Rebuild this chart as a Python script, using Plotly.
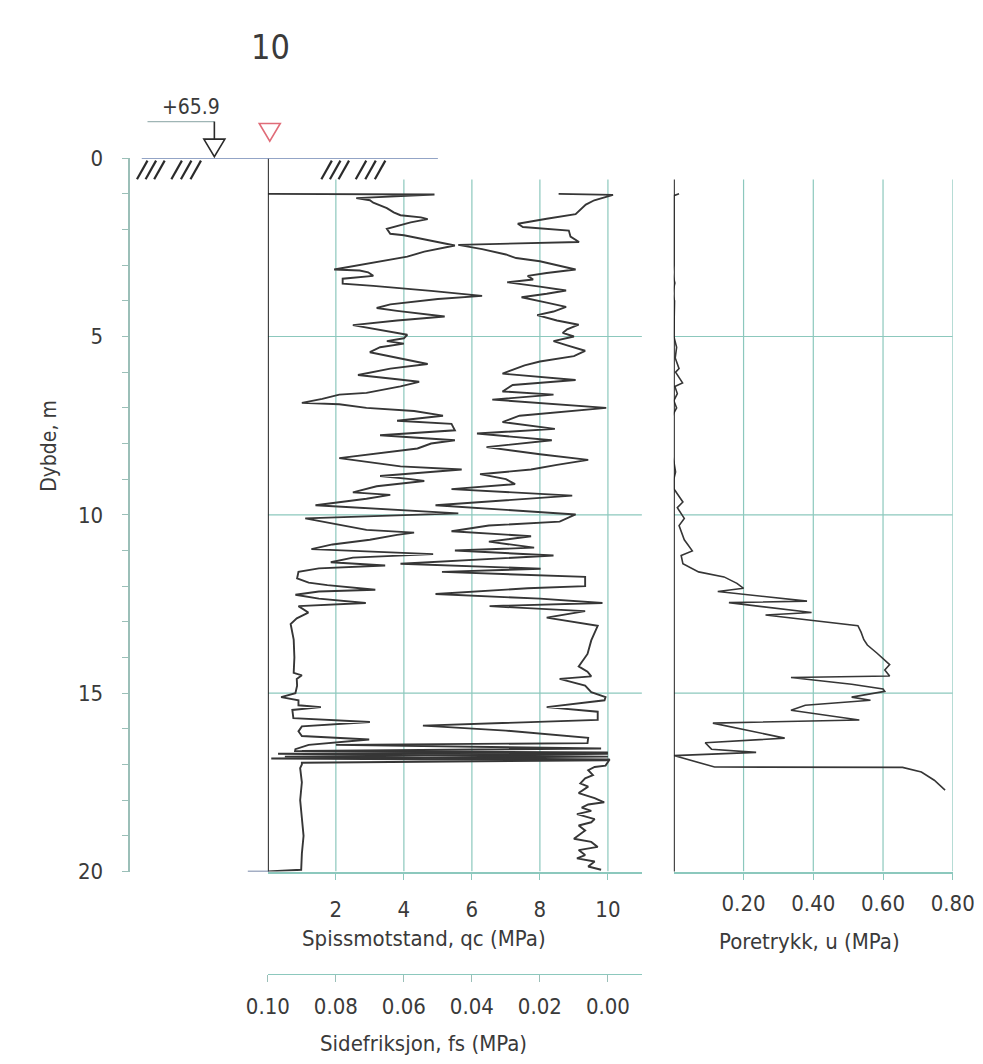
import plotly.graph_objects as go

# ---------------- data ----------------
qc_depth = [1.00, 1.02, 1.12, 1.18, 1.25, 1.40, 1.52, 1.60, 1.66, 1.71, 1.80, 1.98, 2.12, 2.16, 2.45,
            2.62, 2.76, 2.93, 3.08, 3.12, 3.15, 3.20, 3.30, 3.38, 3.52, 3.58, 3.72, 3.86, 3.95, 4.10,
            4.20, 4.28, 4.44, 4.55, 4.68, 4.82, 4.95, 5.05, 5.13, 5.20, 5.30, 5.44, 5.60, 5.77, 5.90,
            6.08, 6.20, 6.27, 6.40, 6.58, 6.63, 6.75, 6.86, 6.90, 7.00, 7.09, 7.22, 7.36, 7.45, 7.63,
            7.77, 7.91, 8.00, 8.14, 8.41, 8.55, 8.64, 8.73, 8.91, 9.00, 9.05, 9.20, 9.37, 9.44, 9.55,
            9.73, 9.80, 9.96, 10.10, 10.25, 10.42, 10.50, 10.56, 10.70, 10.83, 10.96, 11.10, 11.20, 11.33, 11.42,
            11.50, 11.60, 11.78, 11.90, 11.97, 12.10, 12.15, 12.24, 12.35, 12.47, 12.56, 12.74, 12.90, 13.06, 13.50,
            14.00, 14.43, 14.50, 14.60, 14.79, 15.00, 15.11, 15.20, 15.34, 15.39, 15.47, 15.70, 15.81, 15.93, 16.07,
            16.20, 16.30, 16.45, 16.57, 16.62, 16.66, 16.70, 16.78, 16.83, 16.88, 16.95, 17.00, 17.10, 17.50, 18.00,
            18.50, 19.00, 19.50, 19.95, 20.00]
qc_value = [0.0, 4.9, 2.6, 3.0, 3.1, 3.5, 3.7, 3.9, 4.5, 4.7, 4.2, 3.5, 3.6, 4.0, 5.5,
            4.6, 4.1, 3.1, 2.2, 1.95, 2.7, 2.95, 3.1, 2.2, 2.2, 3.1, 4.8, 6.3, 5.0, 3.6,
            3.2, 3.8, 5.2, 3.8, 2.5, 3.4, 4.1, 4.0, 3.5, 4.0, 3.3, 3.0, 3.8, 4.7, 3.6,
            2.65, 3.8, 4.45, 3.9, 2.9, 2.1, 1.6, 1.0, 2.1, 2.9, 4.3, 5.15, 3.8, 5.4, 5.5,
            3.3, 5.5, 4.8, 4.4, 2.1, 3.3, 3.9, 5.7, 3.3, 4.2, 4.6, 3.2, 2.5, 3.6, 2.9,
            1.4, 2.6, 5.6, 1.1, 2.0, 2.9, 4.3, 3.8, 3.0, 1.9, 1.28, 4.86, 2.5, 1.85, 3.45,
            1.5, 0.9, 0.86, 1.2, 1.75, 3.16, 1.5, 0.81, 1.5, 2.88, 0.9, 1.19, 0.85, 0.67, 0.76,
            0.78, 0.76, 1.0, 0.85, 0.86, 0.81, 0.39, 0.9, 0.9, 1.56, 0.72, 0.75, 3.0, 1.0, 0.9,
            1.0, 2.98, 1.2, 0.81, 0.8, 10.0, 0.3, 10.0, 0.1, 10.0, 1.0, 1.0, 0.95, 1.0, 0.95,
            1.0, 1.05, 1.0, 0.98, 0.0]

fs_depth = [1.00, 1.03, 1.07, 1.12, 1.18, 1.30, 1.48, 1.57, 1.70, 1.84, 1.93, 2.03, 2.20, 2.35, 2.43,
            2.55, 2.70, 2.80, 2.89, 3.00, 3.12, 3.22, 3.30, 3.40, 3.48, 3.60, 3.71, 3.80, 3.90, 4.05,
            4.17, 4.30, 4.40, 4.55, 4.67, 4.80, 4.90, 5.00, 5.13, 5.25, 5.40, 5.55, 5.70, 5.81, 6.04,
            6.22, 6.36, 6.54, 6.63, 6.77, 7.00, 7.22, 7.40, 7.59, 7.72, 7.91, 8.10, 8.30, 8.46, 8.60,
            8.73, 8.86, 9.00, 9.14, 9.28, 9.46, 9.60, 9.73, 9.99, 10.19, 10.30, 10.46, 10.60, 10.75, 10.92,
            11.00, 11.14, 11.37, 11.51, 11.60, 11.74, 12.00, 12.06, 12.22, 12.35, 12.47, 12.56, 12.70, 12.88, 13.11,
            13.52, 13.90, 14.25, 14.40, 14.53, 14.60, 14.79, 14.97, 15.11, 15.20, 15.39, 15.52, 15.75, 15.91, 16.05,
            16.25, 16.40, 16.45, 16.55, 16.62, 16.70, 16.78, 16.86, 16.92, 17.03, 17.07, 17.16, 17.30, 17.39, 17.53,
            17.62, 17.80, 17.94, 18.06, 18.12, 18.21, 18.30, 18.39, 18.53, 18.62, 18.71, 18.85, 19.08, 19.17, 19.31,
            19.40, 19.54, 19.63, 19.72, 19.86, 19.95]
fs_value = [0.0145, -0.0015, 0.0, 0.002, 0.004, 0.0065, 0.0085, 0.0095, 0.018, 0.0265, 0.025, 0.0115, 0.011, 0.0085, 0.044,
            0.037, 0.030, 0.027, 0.020, 0.015, 0.0095, 0.018, 0.0236, 0.022, 0.0296, 0.020, 0.0123, 0.018, 0.0254, 0.018,
            0.0123, 0.016, 0.0208, 0.015, 0.0086, 0.012, 0.0133, 0.010, 0.016, 0.012, 0.0067, 0.010, 0.020, 0.0245, 0.031,
            0.0095, 0.028, 0.031, 0.016, 0.034, 0.0005, 0.026, 0.031, 0.0156, 0.0385, 0.0165, 0.0357, 0.020, 0.0058, 0.015,
            0.0226, 0.0376, 0.030, 0.0273, 0.046, 0.0105, 0.030, 0.0507, 0.0095, 0.0142, 0.035, 0.046, 0.0226, 0.035, 0.0217,
            0.045, 0.016, 0.061, 0.0198, 0.0488, 0.0067, 0.0067, 0.0236, 0.0507, 0.020, 0.0016, 0.0348, 0.0067, 0.018, 0.003,
            0.0049, 0.006, 0.0086, 0.006, 0.0049, 0.0142, 0.0067, 0.0049, 0.0007, 0.001, 0.018, 0.003, 0.003, 0.0544, 0.030,
            0.0058, 0.006, 0.080, 0.002, 0.090, 0.0, 0.095, -0.0005, 0.0, 0.0007, 0.0039, 0.0058, 0.0044, 0.0067, 0.0081,
            0.0058, 0.0086, 0.0039, 0.0011, 0.0058, 0.0077, 0.0049, 0.0091, 0.0039, 0.0049, 0.0086, 0.0067, 0.0100, 0.0049, 0.0030,
            0.0086, 0.0067, 0.0091, 0.0039, 0.0058, 0.0020]

u_depth = [1.00, 1.05, 3.00, 3.20, 3.50, 3.80, 4.00, 4.50, 5.00, 5.30, 5.60, 5.90, 6.00, 6.30, 6.40,
           6.60, 6.80, 7.00, 7.30, 7.50, 7.80, 8.00, 8.20, 8.50, 8.80, 9.00, 9.27, 9.50, 9.64, 9.80,
           10.10, 10.30, 10.46, 10.70, 11.01, 11.14, 11.37, 11.60, 11.74, 11.92, 12.06, 12.15, 12.42, 12.46, 12.74,
           12.81, 13.11, 13.29, 13.50, 13.65, 13.88, 14.02, 14.20, 14.35, 14.52, 14.56, 14.75, 14.88, 14.95, 15.11,
           15.20, 15.34, 15.48, 15.75, 15.84, 16.26, 16.39, 16.57, 16.66, 16.75, 17.07, 17.08, 17.21, 17.44, 17.66,
           17.72]
u_value = [0.015, 0.0, 0.0, -0.005, 0.003, -0.004, 0.002, 0.0, 0.0, 0.008, 0.004, 0.015, 0.005, 0.025, 0.003,
           0.010, 0.0, 0.008, -0.010, -0.020, -0.018, -0.005, -0.012, 0.0, 0.005, 0.0, 0.0, 0.015, 0.026, 0.010,
           0.030, 0.015, 0.021, 0.030, 0.053, 0.021, 0.026, 0.071, 0.144, 0.181, 0.200, 0.126, 0.382, 0.158, 0.395,
           0.263, 0.528, 0.537, 0.545, 0.555, 0.583, 0.600, 0.619, 0.605, 0.619, 0.336, 0.510, 0.600, 0.605, 0.510,
           0.564, 0.377, 0.336, 0.532, 0.112, 0.318, 0.090, 0.108, 0.236, 0.0, 0.117, 0.656, 0.710, 0.747, 0.774,
           0.778]

qc_ticks = [2, 4, 6, 8, 10]
fs_ticks = [0.10, 0.08, 0.06, 0.04, 0.02, 0.00]
u_ticks = [0.2, 0.4, 0.6, 0.8]
depth_ticks = [0, 5, 10, 15, 20]
grid_depths = [5, 10, 15]

# ---------------- layout helpers ----------------
W, H = 983, 1064


def px(x):
    return x / W


def py(y):
    return 1 - y / H


FONT = "Liberation Sans Narrow, DejaVu Sans Condensed, Arial Narrow, sans-serif"
TXT = "#3a3a3a"
TEAL = "#8cc8bd"
AXG = "#9bbfb8"
CURVE = "#363636"

QC_MAX = 11.0
X_QC = [px(249), px(640.6)]
X_U = [px(674), px(966)]
Y_DOM = [py(872), py(141.5)]

fig = go.Figure()
fig.add_trace(go.Scatter(x=qc_value, y=qc_depth, mode="lines", xaxis="x", yaxis="y",
                         line=dict(color=CURVE, width=1.9), hoverinfo="skip", showlegend=False))
fig.add_trace(go.Scatter(x=fs_value, y=fs_depth, mode="lines", xaxis="x2", yaxis="y",
                         line=dict(color=CURVE, width=1.9), hoverinfo="skip", showlegend=False))
fig.add_trace(go.Scatter(x=u_value, y=u_depth, mode="lines", xaxis="x3", yaxis="y2",
                         line=dict(color=CURVE, width=1.6), hoverinfo="skip", showlegend=False))

tickfont = dict(family=FONT, size=22, color=TXT)

shapes = []
for v in qc_ticks:
    shapes.append(dict(type="line", xref="x", yref="y", x0=v, x1=v, y0=0.6, y1=20,
                       line=dict(color=TEAL, width=1.2), layer="below"))
for v in u_ticks:
    shapes.append(dict(type="line", xref="x3", yref="y2", x0=v, x1=v, y0=0.6, y1=20,
                       line=dict(color=TEAL, width=1.2), layer="below"))
for d in grid_depths:
    shapes.append(dict(type="line", xref="x", yref="y", x0=0, x1=QC_MAX, y0=d, y1=d,
                       line=dict(color=TEAL, width=1.2), layer="below"))
    shapes.append(dict(type="line", xref="x3", yref="y2", x0=0, x1=0.8, y0=d, y1=d,
                       line=dict(color=TEAL, width=1.2), layer="below"))
shapes.append(dict(type="line", xref="x", yref="y", x0=0, x1=0, y0=0, y1=20,
                   line=dict(color="#222222", width=2)))
shapes.append(dict(type="line", xref="x3", yref="y2", x0=0, x1=0, y0=0.6, y1=20.2,
                   line=dict(color="#222222", width=2)))
shapes.append(dict(type="line", xref="paper", yref="y", x0=px(228), x1=px(250), y0=20, y1=20,
                   line=dict(color="#4a5f8a", width=1.5)))
shapes.append(dict(type="line", xref="paper", yref="y", x0=px(117), x1=px(427), y0=0, y1=0,
                   line=dict(color="#6f86b3", width=1.5)))
for xb in [112, 121, 130, 148, 158, 168, 305, 314, 323, 341, 351, 361]:
    shapes.append(dict(type="line", xref="paper", yref="paper", x0=px(xb), x1=px(xb + 11),
                       y0=py(163), y1=py(144), line=dict(color="#2a2a2a", width=2.2)))
shapes.append(dict(type="line", xref="paper", yref="paper", x0=px(123), x1=px(193), y0=py(104), y1=py(104),
                   line=dict(color="#9fb5b5", width=1.2)))
shapes.append(dict(type="line", xref="paper", yref="paper", x0=px(193), x1=px(193), y0=py(104), y1=py(122),
                   line=dict(color="#2a2a2a", width=1.6)))
shapes.append(dict(type="path", xref="paper", yref="paper",
                   path=f"M {px(182)} {py(122)} L {px(204)} {py(122)} L {px(193)} {py(140)} Z",
                   line=dict(color="#2a2a2a", width=1.6)))
shapes.append(dict(type="path", xref="paper", yref="paper",
                   path=f"M {px(240)} {py(106)} L {px(262)} {py(106)} L {px(251)} {py(124)} Z",
                   line=dict(color="#e06c78", width=1.6)))
fig.update_layout(shapes=shapes)

annotations = [
    dict(text="10", x=px(252), y=py(28), font=dict(family=FONT, size=34, color=TXT)),
    dict(text="+65.9", x=px(169), y=py(89), font=dict(family=FONT, size=21, color=TXT)),
    dict(text="Spissmotstand, qc (MPa)", x=px(412), y=py(941), font=dict(family=FONT, size=22, color=TXT)),
    dict(text="Sidefriksjon, fs (MPa)", x=px(412), y=py(1048), font=dict(family=FONT, size=22, color=TXT)),
    dict(text="Poretrykk, u (MPa)", x=px(816), y=py(944), font=dict(family=FONT, size=22, color=TXT)),
    dict(text="Dybde, m", x=px(20), y=py(436), textangle=-90, font=dict(family=FONT, size=21, color=TXT)),
]
for a in annotations:
    a.update(xref="paper", yref="paper", showarrow=False, xanchor="center", yanchor="middle")

fig.update_layout(
    width=W, height=H, autosize=False,
    margin=dict(l=0, r=0, t=0, b=0),
    paper_bgcolor="white", plot_bgcolor="rgba(0,0,0,0)",
    annotations=annotations,
    xaxis=dict(domain=X_QC, range=[0, QC_MAX], anchor="y", side="bottom",
               showgrid=False, zeroline=False, showline=True, linecolor=TEAL, linewidth=1.5,
               tickmode="array", tickvals=qc_ticks, ticktext=[str(v) for v in qc_ticks],
               ticks="outside", ticklen=7, tickcolor=TEAL, tickwidth=1.2,
               tickfont=tickfont, ticklabelstandoff=10, ticklabeloverflow="allow"),
    xaxis2=dict(domain=X_QC, range=[0.10, 0.10 - QC_MAX * 0.01], overlaying="x", anchor="free",
                position=py(977), side="bottom",
                showgrid=False, zeroline=False, showline=True, linecolor=TEAL, linewidth=1.2,
                tickmode="array", tickvals=fs_ticks, ticktext=[f"{v:.2f}" for v in fs_ticks],
                ticks="outside", ticklen=7, tickcolor=AXG, tickwidth=1.2,
                tickfont=tickfont, ticklabelstandoff=5, ticklabeloverflow="allow"),
    xaxis3=dict(domain=X_U, range=[0, 0.8], anchor="y2", side="bottom",
                showgrid=False, zeroline=False, showline=True, linecolor=TEAL, linewidth=1.5,
                tickmode="array", tickvals=u_ticks, ticktext=[f"{v:.2f}" for v in u_ticks],
                ticks="outside", ticklen=7, tickcolor=TEAL, tickwidth=1.2,
                tickfont=tickfont, ticklabelstandoff=4, ticklabeloverflow="allow"),
    yaxis=dict(domain=Y_DOM, range=[20, 0], anchor="free", position=px(104), side="left",
               showgrid=False, zeroline=False, showline=True, linecolor=AXG, linewidth=1.5,
               tickmode="array", tickvals=depth_ticks, ticktext=[str(v) for v in depth_ticks],
               ticks="outside", ticklen=7, tickcolor=AXG, tickwidth=1.2,
               minor=dict(tickvals=list(range(0, 21)), ticks="outside", ticklen=7, tickcolor=AXG),
               tickfont=tickfont, ticklabelstandoff=14),
    yaxis2=dict(domain=Y_DOM, range=[20, 0], anchor="x3", showgrid=False, zeroline=False,
                showline=False, showticklabels=False, ticks=""),
)

fig.write_html("out.html")
